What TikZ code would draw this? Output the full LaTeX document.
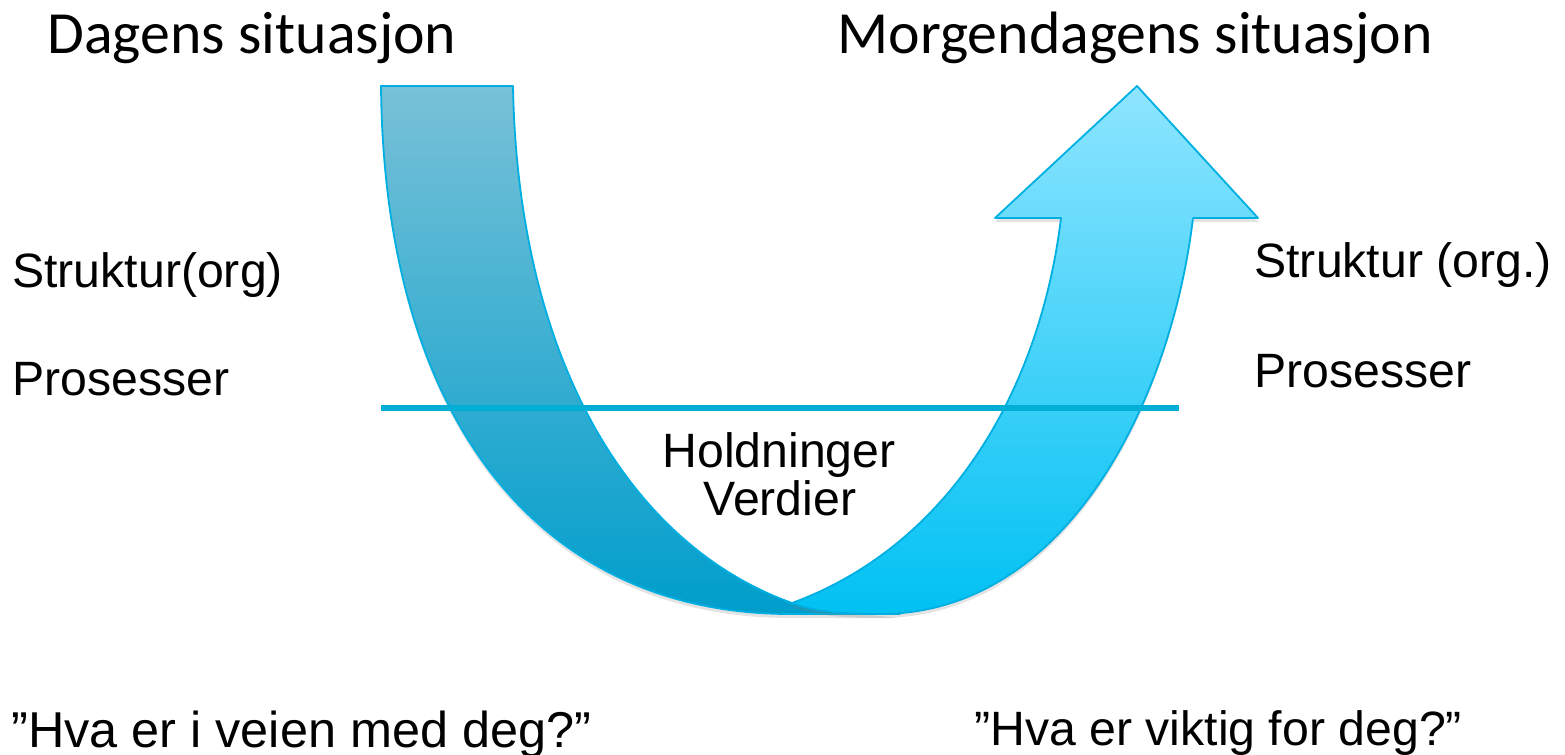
\documentclass[tikz,border=0pt]{standalone}
\usepackage{fontspec}
\setmainfont{Liberation Sans}
\newfontfamily\titlefont{Carlito}
\usetikzlibrary{shadows}
\definecolor{lefttop}{RGB}{120,193,215}
\definecolor{leftbot}{RGB}{0,158,204}
\definecolor{righttop}{RGB}{142,229,255}
\definecolor{rightbot}{RGB}{0,193,243}
\definecolor{edgecol}{RGB}{0,175,225}
\definecolor{linecol}{RGB}{0,174,214}
\begin{document}
\begin{tikzpicture}[x=0.5pt,y=-0.5pt,
  lbl/.style={anchor=base west, inner sep=0pt, font=\fontsize{24.1}{28}\selectfont},
  ttl/.style={anchor=base west, inner sep=0pt, font=\titlefont\fontsize{29.9}{34}\selectfont},
  band/.style={draw=edgecol, line width=0.9pt, line join=round,
    drop shadow={opacity=0.22, shadow xshift=0pt, shadow yshift=-2pt}},
  levelline/.style={draw=linecol, line width=2.6pt,
    drop shadow={opacity=0.2, shadow xshift=0pt, shadow yshift=-1.5pt}}]
\useasboundingbox (0,0) rectangle (1565,755);

% back band (left, darker)
\shade[band, top color=lefttop, bottom color=leftbot]
  (381,86) -- (513,86)
  .. controls (518,360) and (630,545) .. (792,603)
  -- (900,614) -- (790,614)
  .. controls (540,614) and (384,420) .. (381,86) -- cycle;

% front band (right, with arrow head)
\shade[band, top color=righttop, bottom color=rightbot]
  (792,603) .. controls (950,545) and (1040,390) .. (1061,218)
  -- (995,218) -- (1137,86) -- (1258,218) -- (1193,218)
  .. controls (1172,395) and (1070,614) .. (880,614)
  .. controls (835,614) and (810,610) .. (792,603) -- cycle;

% level line
\coordinate (lineL) at (381,408);
\coordinate (lineR) at (1179,408);
\path[levelline] (lineL) -- (lineR);

% texts
\node[ttl] (t1) at (47,54) {Dagens situasjon};
\node[ttl] (t2) at (837,54) {Morgendagens situasjon};
\node[lbl] (sl) at (12,287) {Struktur(org)};
\node[lbl] (pl) at (12,395) {Prosesser};
\node[lbl] (sr) at (1254,277) {Struktur (org.)};
\node[lbl] (pr) at (1254,387) {Prosesser};
\node[lbl, anchor=base] (h) at (779,467) {Holdninger};
\node[lbl, anchor=base] (v) at (780,515) {Verdier};
\node[lbl, font=\fontsize{25.2}{29}\selectfont] (ql) at (11,747) {”Hva er i veien med deg?”};
\node[lbl] (qr) at (974,745) {”Hva er viktig for deg?”};
\end{tikzpicture}
\end{document}
